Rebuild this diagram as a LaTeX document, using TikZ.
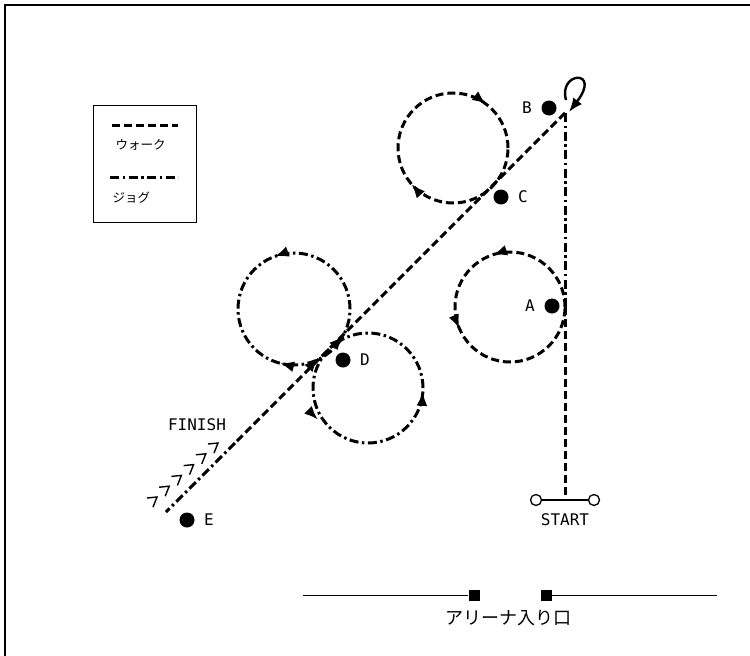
\documentclass[tikz,border=0pt]{standalone}
\usepackage{fontspec}
\setmainfont{DejaVu Sans Mono}
\newfontfamily\jp{Noto Sans CJK JP}
\usetikzlibrary{arrows.meta,decorations.markings,positioning,calc}

\tikzset{
  walk/.style={line width=3pt,dash pattern=on 8pt off 4pt},
  jog/.style={line width=3pt,dash pattern=on 9pt off 3.5pt on 2.5pt off 3.5pt},
  spot/.style={circle,fill=black,inner sep=0pt,minimum size=15pt},
  lbl/.style={font=\fontsize{16}{16}\selectfont},
  head/.style={-{Latex[length=14pt,width=11pt]}},
}

\begin{document}
\begin{tikzpicture}[x=1pt,y=1pt,line cap=butt]
  \useasboundingbox (0,-656) rectangle (750,0);
  % frame
  \draw[line width=2.5pt] (5,-656) -- (5,-5) -- (750,-5);

  % legend
  \node[draw,line width=1pt,minimum width=103pt,minimum height=117pt,anchor=north west] (legend) at (93,-105) {};
  \coordinate (lw1) at (112,-125);
  \coordinate (lw2) at (178,-125);
  \coordinate (lj1) at (110,-177);
  \coordinate (lj2) at (178,-177);
  \draw[walk] (lw1) -- (lw2);
  \draw[jog] (lj1) -- (lj2);
  \node[anchor=west,font=\jp\fontsize{12.5}{12.5}\selectfont] (walktxt) at (112,-145) {ウォーク};
  \node[anchor=west,font=\jp\fontsize{12.5}{12.5}\selectfont] (jogtxt) at (109,-198) {ジョグ};

  % markers
  \node[spot] (B) at (549,-108) {};
  \node[spot] (C) at (501,-197) {};
  \node[spot] (A) at (552,-306) {};
  \node[spot] (D) at (343,-360) {};
  \node[spot] (E) at (187,-520) {};
  \node[lbl,left=6pt of B] (Blbl) {B};
  \node[lbl,right=6pt of C] (Clbl) {C};
  \node[lbl,left=6pt of A] (Albl) {A};
  \node[lbl,right=6pt of D] (Dlbl) {D};
  \node[lbl,right=6pt of E] (Elbl) {E};

  % route points
  \coordinate (top) at (565,-113);
  \coordinate (atA) at (565,-307);
  \coordinate (base) at (565,-495);
  \coordinate (split) at (235,-443);
  \coordinate (fin) at (166,-512);

  \draw[walk] (base) -- (atA);
  \draw[jog] (atA) -- (top);
  \draw[walk] (top) -- (split);
  \draw[jog] (split) -- (fin);

  % turn at B
  \coordinate (loopin) at (566,-100);
  \coordinate (loopout) at (569,-112);
  \draw[line width=2.4pt,head] (loopin) .. controls (558,-71) and (602,-69) .. (loopout);

  % circles
  \coordinate (cC) at (453,-148);
  \coordinate (cA) at (510,-307);
  \coordinate (cD1) at (294,-309);
  \coordinate (cD2) at (368,-388);
  \draw[walk,postaction={decorate,solid},decoration={markings,
      mark=at position 0.147 with {\arrowreversed{Latex[length=14pt,width=11pt]}},
      mark=at position 0.614 with {\arrowreversed{Latex[length=14pt,width=11pt]}}}]
    (cC) circle (55);
  \draw[walk,postaction={decorate,solid},decoration={markings,
      mark=at position 0.30 with {\arrow{Latex[length=14pt,width=11pt]}},
      mark=at position 0.564 with {\arrow{Latex[length=14pt,width=11pt]}}}]
    (cA) circle (55);
  \draw[jog,postaction={decorate,solid},decoration={markings,
      mark=at position 0.306 with {\arrow{Latex[length=14pt,width=11pt]}},
      mark=at position 0.71 with {\arrowreversed{Latex[length=14pt,width=11pt]}}}]
    (cD1) circle (56);
  \draw[jog,postaction={decorate,solid},decoration={markings,
      mark=at position 0.989 with {\arrow{Latex[length=14pt,width=11pt]}},
      mark=at position 0.586 with {\arrow{Latex[length=14pt,width=11pt]}}}]
    (cD2) circle (55);
  % small heads where the jog loops meet the line
  \coordinate (h1a) at (333,-347);
  \coordinate (h1b) at (343,-336);
  \coordinate (h2a) at (308,-369);
  \coordinate (h2b) at (318,-358);
  \draw[line width=2pt,head] (h1a) -- (h1b);
  \draw[line width=2pt,head] (h2a) -- (h2b);

  % finish chevrons
  \foreach \i in {0,...,5}
    \draw[line width=1.4pt] ($(157,-497)+(\i*12.2,\i*10.8)$) ++(-10,-1) -- ++(10,1) -- ++(-4,-10);
  \node[lbl] (finish) at (197,-425) {FINISH};

  % start
  \node[circle,draw,line width=1.3pt,minimum size=11pt,inner sep=0pt] (s1) at (536,-500) {};
  \node[circle,draw,line width=1.3pt,minimum size=11pt,inner sep=0pt] (s2) at (594,-500) {};
  \draw[line width=2pt] (s1) -- (s2);
  \node[lbl] (start) at (565,-520) {START};

  % arena entrance
  \node[fill=black,minimum size=11pt,inner sep=0pt] (g1) at (474,-595.5) {};
  \node[fill=black,minimum size=11pt,inner sep=0pt] (g2) at (546,-595.5) {};
  \coordinate (wl) at (303,-595.5);
  \coordinate (wr) at (717,-595.5);
  \draw[line width=1.8pt] (wl) -- (g1);
  \draw[line width=1.8pt] (g2) -- (wr);
  \node[font=\jp\fontsize{18}{18}\selectfont] (gate) at (508,-618) {アリーナ入り口};
\end{tikzpicture}
\end{document}
